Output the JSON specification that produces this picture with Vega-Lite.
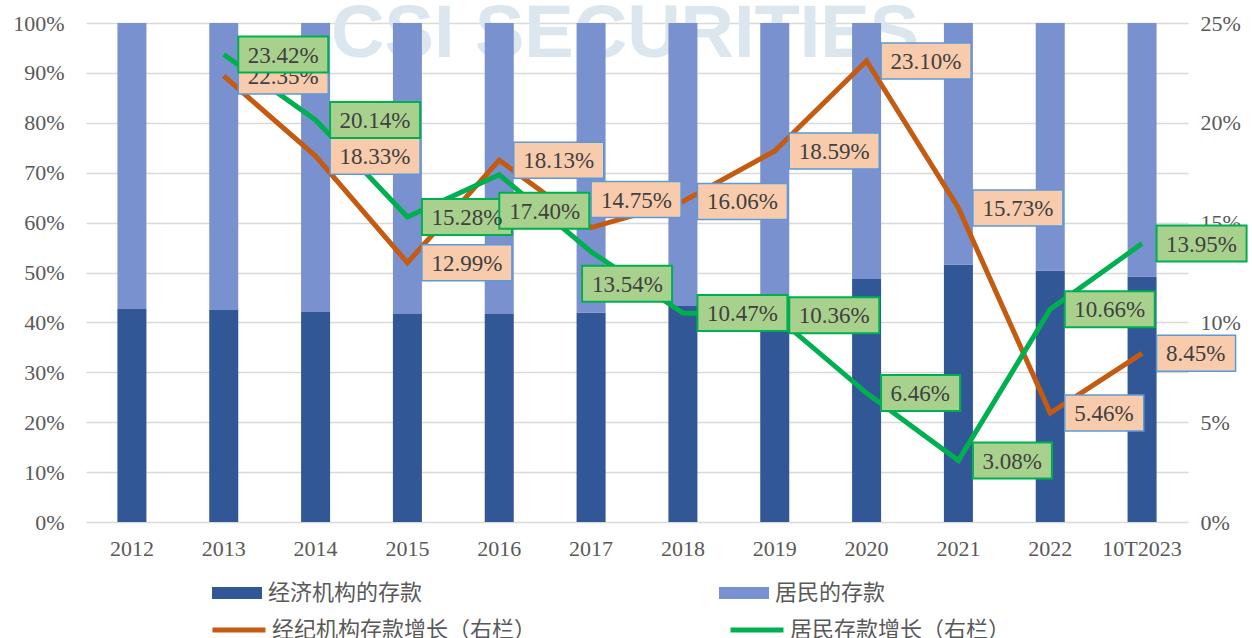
{
  "$schema": "https://vega.github.io/schema/vega-lite/v6.json",
  "width": 1102,
  "height": 499,
  "autosize": {"type": "none"},
  "padding": {"left": 86, "top": 23, "right": 64, "bottom": 116},
  "background": "white",
  "config": {"view": {"stroke": null}, "font": "Liberation Serif"},
  "datasets": {
    "shares": [
      {"year": "2012", "series": "经济机构的存款", "share": 0.427},
      {"year": "2012", "series": "居民的存款", "share": 0.573},
      {"year": "2013", "series": "经济机构的存款", "share": 0.425},
      {"year": "2013", "series": "居民的存款", "share": 0.575},
      {"year": "2014", "series": "经济机构的存款", "share": 0.421},
      {"year": "2014", "series": "居民的存款", "share": 0.579},
      {"year": "2015", "series": "经济机构的存款", "share": 0.417},
      {"year": "2015", "series": "居民的存款", "share": 0.583},
      {"year": "2016", "series": "经济机构的存款", "share": 0.417},
      {"year": "2016", "series": "居民的存款", "share": 0.583},
      {"year": "2017", "series": "经济机构的存款", "share": 0.420},
      {"year": "2017", "series": "居民的存款", "share": 0.580},
      {"year": "2018", "series": "经济机构的存款", "share": 0.433},
      {"year": "2018", "series": "居民的存款", "share": 0.567},
      {"year": "2019", "series": "经济机构的存款", "share": 0.445},
      {"year": "2019", "series": "居民的存款", "share": 0.555},
      {"year": "2020", "series": "经济机构的存款", "share": 0.487},
      {"year": "2020", "series": "居民的存款", "share": 0.513},
      {"year": "2021", "series": "经济机构的存款", "share": 0.516},
      {"year": "2021", "series": "居民的存款", "share": 0.484},
      {"year": "2022", "series": "经济机构的存款", "share": 0.504},
      {"year": "2022", "series": "居民的存款", "share": 0.496},
      {"year": "10T2023", "series": "经济机构的存款", "share": 0.492},
      {"year": "10T2023", "series": "居民的存款", "share": 0.508}
    ],
    "growth": [
      {"year": "2013", "series": "经纪机构存款增长（右栏）", "growth": 0.2235},
      {"year": "2014", "series": "经纪机构存款增长（右栏）", "growth": 0.1833},
      {"year": "2015", "series": "经纪机构存款增长（右栏）", "growth": 0.1299},
      {"year": "2016", "series": "经纪机构存款增长（右栏）", "growth": 0.1813},
      {"year": "2017", "series": "经纪机构存款增长（右栏）", "growth": 0.1475},
      {"year": "2018", "series": "经纪机构存款增长（右栏）", "growth": 0.1606},
      {"year": "2019", "series": "经纪机构存款增长（右栏）", "growth": 0.1859},
      {"year": "2020", "series": "经纪机构存款增长（右栏）", "growth": 0.2310},
      {"year": "2021", "series": "经纪机构存款增长（右栏）", "growth": 0.1573},
      {"year": "2022", "series": "经纪机构存款增长（右栏）", "growth": 0.0546},
      {"year": "10T2023", "series": "经纪机构存款增长（右栏）", "growth": 0.0845},
      {"year": "2013", "series": "居民存款增长（右栏）", "growth": 0.2342},
      {"year": "2014", "series": "居民存款增长（右栏）", "growth": 0.2014},
      {"year": "2015", "series": "居民存款增长（右栏）", "growth": 0.1528},
      {"year": "2016", "series": "居民存款增长（右栏）", "growth": 0.1740},
      {"year": "2017", "series": "居民存款增长（右栏）", "growth": 0.1354},
      {"year": "2018", "series": "居民存款增长（右栏）", "growth": 0.1047},
      {"year": "2019", "series": "居民存款增长（右栏）", "growth": 0.1036},
      {"year": "2020", "series": "居民存款增长（右栏）", "growth": 0.0646},
      {"year": "2021", "series": "居民存款增长（右栏）", "growth": 0.0308},
      {"year": "2022", "series": "居民存款增长（右栏）", "growth": 0.1066},
      {"year": "10T2023", "series": "居民存款增长（右栏）", "growth": 0.1395}
    ]
  },
  "encoding": {
    "x": {
      "field": "year",
      "type": "nominal",
      "scale": {
        "domain": ["2012", "2013", "2014", "2015", "2016", "2017", "2018", "2019", "2020", "2021", "2022", "10T2023"],
        "paddingInner": 0.684,
        "paddingOuter": 0.342
      },
      "axis": {
        "title": null,
        "domain": false,
        "ticks": false,
        "labelAngle": 0,
        "labelFont": "Liberation Serif",
        "labelFontSize": 22,
        "labelColor": "#595959",
        "labelPadding": 16
      }
    }
  },
  "layer": [
    {
      "layer": [
        {
          "data": {"values": [{"t": "CSI SECURITIES"}]},
          "mark": {
            "type": "text",
            "font": "Liberation Sans",
            "fontWeight": "bold",
            "fontSize": 74,
            "fill": "#DCE6EE",
            "align": "center",
            "baseline": "middle",
            "dx": 34,
            "dy": 12
          },
          "encoding": {
            "x": {"datum": "2017", "type": "nominal"},
            "y": {"datum": 1, "type": "quantitative", "scale": {"domain": [0, 1], "nice": false}},
            "text": {"field": "t", "type": "nominal"}
          }
        },
        {
          "data": {"name": "shares"},
          "mark": {"type": "bar"},
          "encoding": {
            "y": {
              "field": "share",
              "type": "quantitative",
              "stack": true,
              "scale": {"domain": [0, 1], "nice": false},
              "axis": {
                "title": null,
                "orient": "left",
                "values": [0, 0.1, 0.2, 0.3, 0.4, 0.5, 0.6, 0.7, 0.8, 0.9, 1],
                "format": ".0%",
                "grid": true,
                "gridColor": "#D9D9D9",
                "gridWidth": 1.5,
                "domain": false,
                "ticks": false,
                "labelFont": "Liberation Serif",
                "labelFontSize": 22,
                "labelColor": "#595959",
                "labelPadding": 22
              }
            },
            "fill": {
              "field": "series",
              "type": "nominal",
              "scale": {"domain": ["经济机构的存款", "居民的存款"], "range": ["#325797", "#7992CF"]},
              "legend": {
                "orient": "none",
                "legendX": 126,
                "legendY": 545,
                "direction": "horizontal",
                "columns": 2,
                "columnPadding": 296,
                "title": null,
                "padding": 0,
                "symbolType": "M-1,-0.24H1V0.24H-1Z",
                "symbolSize": 2500,
                "symbolStrokeWidth": 0,
                "labelFont": "Noto Sans CJK SC",
                "labelFontSize": 22,
                "labelColor": "#595959",
                "labelOffset": 6,
                "labelLimit": 500
              }
            },
            "order": {"field": "series", "sort": "descending"}
          }
        }
      ]
    },
    {
      "encoding": {
        "y": {
          "field": "growth",
          "type": "quantitative",
          "scale": {"domain": [0, 0.25], "nice": false},
          "axis": {
            "title": null,
            "orient": "right",
            "values": [0, 0.05, 0.1, 0.15, 0.2, 0.25],
            "format": ".0%",
            "grid": false,
            "domain": false,
            "ticks": false,
            "labelFont": "Liberation Serif",
            "labelFontSize": 22,
            "labelColor": "#595959",
            "labelPadding": 12
          }
        }
      },
      "layer": [
        {
          "data": {"name": "growth"},
          "transform": [{"filter": "datum.series === '经纪机构存款增长（右栏）'"}],
          "mark": {"type": "line", "strokeWidth": 5},
          "encoding": {
            "stroke": {
              "field": "series",
              "type": "nominal",
              "scale": {"domain": ["经纪机构存款增长（右栏）", "居民存款增长（右栏）"], "range": ["#C55A11", "#00B050"]},
              "legend": {
                "orient": "none",
                "legendX": 124,
                "legendY": 578,
                "direction": "horizontal",
                "columns": 2,
                "columnPadding": 183,
                "title": null,
                "padding": 0,
                "symbolType": "stroke",
                "symbolSize": 2809,
                "symbolStrokeWidth": 5,
                "labelFont": "Noto Sans CJK SC",
                "labelFontSize": 22,
                "labelColor": "#595959",
                "labelOffset": 4,
                "labelLimit": 500
              }
            }
          }
        },
        {
          "data": {"name": "growth"},
          "transform": [{"filter": "datum.series === '居民存款增长（右栏）'"}],
          "mark": {"type": "line", "strokeWidth": 5},
          "encoding": {
            "stroke": {"field": "series", "type": "nominal"}
          }
        },
        {
          "data": {"name": "growth"},
          "transform": [{"filter": "datum.series === '经纪机构存款增长（右栏）'"}],
          "mark": {"type": "point", "filled": true, "size": 10000, "fill": "#F8CBAD", "stroke": "#5B9BD5", "strokeWidth": 1.5, "opacity": 1, "fillOpacity": 1, "strokeOpacity": 1},
          "encoding": {
            "shape": {
              "condition": [
                {"test": "datum.year === '2017'", "value": "M0,-0.92H1.8V-0.2H0Z"},
                {"test": "datum.growth < 0.1", "value": "M0.29,-0.36H1.87V0.36H0.29Z"}
              ],
              "value": "M0.29,-0.36H2.09V0.36H0.29Z"
            }
          }
        },
        {
          "data": {"name": "growth"},
          "transform": [{"filter": "datum.series === '经纪机构存款增长（右栏）' && datum.year !== '2017'"}],
          "mark": {"type": "text", "align": "left", "baseline": "middle", "dx": 24, "dy": 1, "font": "Liberation Serif", "fontSize": 23, "fill": "#404040"},
          "encoding": {
            "text": {"field": "growth", "type": "quantitative", "format": ".2%"}
          }
        },
        {
          "data": {"name": "growth"},
          "transform": [{"filter": "datum.series === '经纪机构存款增长（右栏）' && datum.year === '2017'"}],
          "mark": {"type": "text", "align": "left", "baseline": "middle", "dx": 10, "dy": -27, "font": "Liberation Serif", "fontSize": 23, "fill": "#404040"},
          "encoding": {
            "text": {"field": "growth", "type": "quantitative", "format": ".2%"}
          }
        },
        {
          "data": {"name": "growth"},
          "transform": [{"filter": "datum.series === '居民存款增长（右栏）'"}],
          "mark": {"type": "point", "filled": true, "size": 10000, "fill": "#A9D18E", "stroke": "#00B050", "strokeWidth": 2, "opacity": 1, "fillOpacity": 1, "strokeOpacity": 1},
          "encoding": {
            "shape": {
              "condition": [
                {"test": "datum.year === '2016'", "value": "M0,0.36H1.8V1.08H0Z"},
                {"test": "datum.year === '2017'", "value": "M-0.18,0.28H1.62V1H-0.18Z"},
                {"test": "datum.growth < 0.1", "value": "M0.29,-0.36H1.87V0.36H0.29Z"}
              ],
              "value": "M0.29,-0.36H2.09V0.36H0.29Z"
            }
          }
        },
        {
          "data": {"name": "growth"},
          "transform": [{"filter": "datum.series === '居民存款增长（右栏）' && datum.year !== '2016' && datum.year !== '2017'"}],
          "mark": {"type": "text", "align": "left", "baseline": "middle", "dx": 24, "dy": 1, "font": "Liberation Serif", "fontSize": 23, "fill": "#404040"},
          "encoding": {
            "text": {"field": "growth", "type": "quantitative", "format": ".2%"}
          }
        },
        {
          "data": {"name": "growth"},
          "transform": [{"filter": "datum.series === '居民存款增长（右栏）' && datum.year === '2016'"}],
          "mark": {"type": "text", "align": "left", "baseline": "middle", "dx": 10, "dy": 37, "font": "Liberation Serif", "fontSize": 23, "fill": "#404040"},
          "encoding": {
            "text": {"field": "growth", "type": "quantitative", "format": ".2%"}
          }
        },
        {
          "data": {"name": "growth"},
          "transform": [{"filter": "datum.series === '居民存款增长（右栏）' && datum.year === '2017'"}],
          "mark": {"type": "text", "align": "left", "baseline": "middle", "dx": 1, "dy": 33, "font": "Liberation Serif", "fontSize": 23, "fill": "#404040"},
          "encoding": {
            "text": {"field": "growth", "type": "quantitative", "format": ".2%"}
          }
        }
      ]
    }
  ],
  "resolve": {"scale": {"y": "independent"}}
}
